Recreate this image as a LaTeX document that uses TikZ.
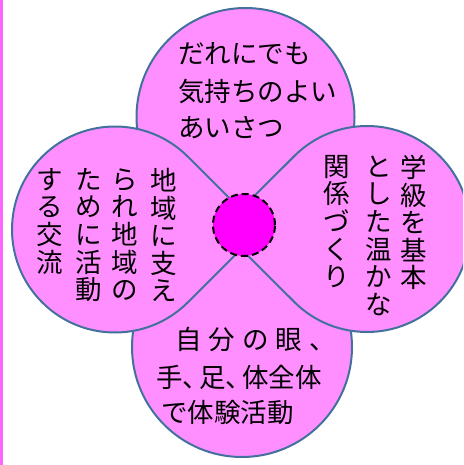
\documentclass[tikz,border=0pt]{standalone}
\usepackage{fontspec}
\usetikzlibrary{calc}
\newfontfamily\jp{Noto Sans CJK JP}
\definecolor{petal}{RGB}{255,143,255}
\definecolor{edge}{RGB}{65,113,156}
\definecolor{stripe}{RGB}{255,102,255}
\definecolor{hubfill}{RGB}{255,0,255}
\begin{document}
\begin{tikzpicture}[x=1pt,y=-1pt,
  petalsty/.style={fill=petal,draw=edge,line width=2pt,line join=round},
  hz/.style={inner sep=0pt,anchor=west,font=\jp\fontsize{26.5}{27.6}\selectfont},
  vt/.style={inner sep=0pt,anchor=north,align=center,font=\jp\fontsize{26.5}{27.6}\selectfont},
  hub/.style={circle,minimum size=62pt,inner sep=0pt,fill=hubfill,draw=black,line width=2pt,dash pattern=on 7pt off 4pt}]
\useasboundingbox (0,0) rectangle (463,465);
\clip (0,0) rectangle (463,465);
\fill[stripe] (0,0) rectangle (3,465);
\coordinate (ct) at (245.5,117);
\coordinate (cb) at (242,347);
\coordinate (cl) at (115,229.5);
\coordinate (cr) at (367,229);
\coordinate (tipl) at (260.7,229.5);
\coordinate (tipr) at (221.3,229);
% top and bottom petals
\path[petalsty] (ct) circle[radius=109];
\path[petalsty] (cb) circle[radius=110];
% left and right petals (teardrops pointing to the centre)
\path[petalsty] (tipl) -- ($(cl)+(-45:103)$) arc[start angle=-45,end angle=-315,radius=103] -- cycle;
\path[petalsty] (tipr) -- ($(cr)+(225:103)$) arc[start angle=225,end angle=495,radius=103] -- cycle;
% centre
\node[hub] (hubc) at (244,225) {};
% top petal text
\node[hz] (t1) at (178,54) {だれにでも};
\node[hz] (t2) at (178,92) {気持ちのよい};
\node[hz] (t3) at (178,128) {あいさつ};
% right petal text (vertical)
\node[vt] (r1) at (414,155) {\vphantom{国}学\\級\\を\\基\\本};
\node[vt] (r2) at (378.5,155) {\vphantom{国}と\\し\\た\\温\\か\\な};
\node[vt] (r3) at (336.5,155) {\vphantom{国}関\\係\\づ\\く\\り};
% left petal text (vertical)
\node[vt] (l1) at (163.5,168) {\vphantom{国}地\\域\\に\\支\\え};
\node[vt] (l2) at (125,168) {\vphantom{国}ら\\れ\\地\\域\\の};
\node[vt] (l3) at (88.5,168) {\vphantom{国}た\\め\\に\\活\\動};
\node[vt] (l4) at (49.5,168) {\vphantom{国}す\\る\\交\\流};
% bottom petal text
\node[hz] (b1) at (175,339) {自\kern7pt 分\kern7pt の\kern7pt 眼\kern7pt 、};
\node[hz] (b2) at (156,377) {手、\kern-10pt 足、\kern-10pt 体全体};
\node[hz] (b3) at (161,413) {で体験活動};
\end{tikzpicture}
\end{document}
